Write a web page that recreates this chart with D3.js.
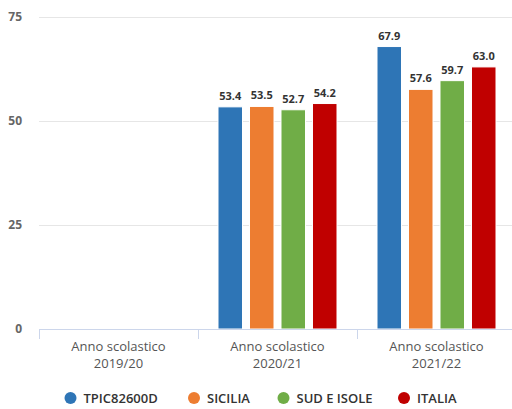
<!DOCTYPE html>
<html><head><meta charset="utf-8">
<script src="https://cdn.jsdelivr.net/npm/d3@7"></script>
<style>body{margin:0;background:#fff}svg{display:block;font-family:"Open Sans",sans-serif}</style>
</head><body><svg id="c" width="512" height="409"></svg>
<script>
const categories = ["Anno scolastico\n2019/20", "Anno scolastico\n2020/21", "Anno scolastico\n2021/22"];
const seriesNames = ["TPIC82600D", "SICILIA", "SUD E ISOLE", "ITALIA"];
const seriesColors = ["#2e75b6", "#ed7d31", "#70ad47", "#c00000"];
const tpic = [null, 53.4, 67.9];
const sicilia = [null, 53.5, 57.6];
const sud = [null, 52.7, 59.7];
const italia = [null, 54.2, 63.0];
const yTicks = [0, 25, 50, 75];

const values = [tpic, sicilia, sud, italia];
const svg = d3.select("#c");
const x0 = d3.scaleBand().domain(categories).range([39, 516]);
const x1 = d3.scaleBand().domain(seriesNames).range([0, x0.bandwidth()]).paddingInner(0.222).paddingOuter(0.635);
const y = d3.scaleLinear().domain([0, 75]).range([329, 17]);

// gridlines
svg.append("g").selectAll("line").data(yTicks.filter(t => t > 0)).join("line")
  .attr("x1", 39).attr("x2", 512).attr("y1", d => y(d) + 0.5).attr("y2", d => y(d) + 0.5)
  .attr("stroke", "#e6e6e6").attr("stroke-width", 1);

// y labels
svg.append("g").selectAll("text").data(yTicks).join("text")
  .attr("x", 22).attr("y", d => y(d) + 4).attr("text-anchor", "end")
  .attr("font-size", 12).attr("font-weight", "bold").attr("fill", "#666").text(d => d);

// bars
const groups = svg.append("g").selectAll("g").data(categories).join("g")
  .attr("transform", d => `translate(${x0(d)},0)`);
groups.each(function(cat, ci) {
  const g = d3.select(this);
  const data = seriesNames.map((s, si) => ({s, si, v: values[si][ci]})).filter(d => d.v != null);
  g.selectAll("rect").data(data).join("rect")
    .attr("x", d => x1(d.s)).attr("width", x1.bandwidth())
    .attr("y", d => y(d.v)).attr("height", d => y(0) - y(d.v))
    .attr("fill", d => seriesColors[d.si]).attr("stroke", "#fff").attr("stroke-width", 1);
  g.selectAll("text").data(data).join("text")
    .attr("x", d => x1(d.s) + x1.bandwidth() / 2).attr("y", d => y(d.v) - 7)
    .attr("text-anchor", "middle").attr("font-size", 11).attr("font-weight", "bold")
    .attr("fill", "#333").text(d => d.v.toFixed(1));
});

// x axis
svg.append("line").attr("x1", 39).attr("x2", 512).attr("y1", y(0) + 0.5).attr("y2", y(0) + 0.5)
  .attr("stroke", "#ccd6eb");
svg.append("g").selectAll("line").data(categories).join("line")
  .attr("x1", d => Math.round(x0(d)) + 0.5).attr("x2", d => Math.round(x0(d)) + 0.5)
  .attr("y1", y(0)).attr("y2", y(0) + 10).attr("stroke", "#ccd6eb");
const xl = svg.append("g").selectAll("text").data(categories).join("text")
  .attr("x", d => x0(d) + x0.bandwidth() / 2).attr("y", 351)
  .attr("text-anchor", "middle").attr("font-size", 13).attr("fill", "#555");
xl.each(function(d) {
  const lines = d.split("\n");
  d3.select(this).selectAll("tspan").data(lines).join("tspan")
    .attr("x", x0(d) + x0.bandwidth() / 2).attr("dy", (l, i) => i === 0 ? 0 : 17).text(l => l);
});

// legend
const legX = [70.5, 194, 283.5, 404];
const lg = svg.append("g").selectAll("g").data(seriesNames).join("g")
  .attr("transform", (d, i) => `translate(${legX[i]},398)`);
lg.append("circle").attr("r", 6).attr("fill", (d, i) => seriesColors[i]);
lg.append("text").attr("x", 13).attr("y", 4.5).attr("font-size", 13).attr("font-weight", 600)
  .attr("fill", "#333").text(d => d);
</script></body></html>
